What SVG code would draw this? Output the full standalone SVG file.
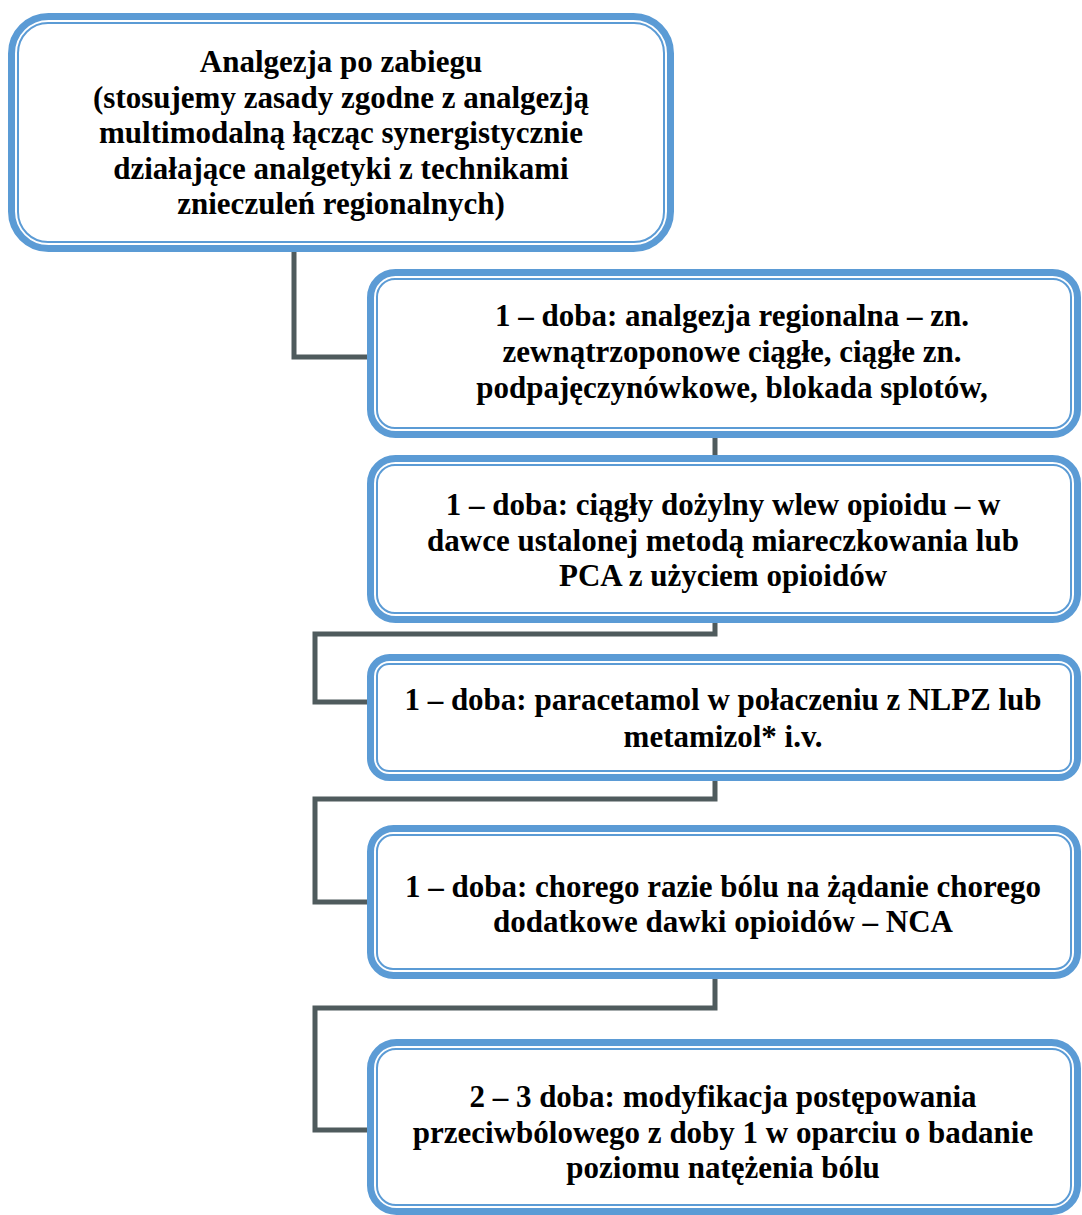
<svg xmlns="http://www.w3.org/2000/svg" width="1082" height="1215" viewBox="0 0 1082 1215">
<style>
.outer{fill:#fff;stroke:#5b9bd5;stroke-width:7}
.inner{fill:none;stroke:#5b9bd5;stroke-width:2}
.conn{fill:none;stroke:#4f5b5d;stroke-width:5;stroke-linejoin:miter;stroke-linecap:butt}
.t{font-family:"Liberation Serif","Times New Roman",serif;font-weight:bold;font-size:31px;fill:#000;text-anchor:middle}
</style>
<rect width="1082" height="1215" fill="#fff"/>
<g id="connectors">
<polyline class="conn" points="294,252 294,357 368,357"/>
<polyline class="conn" points="715,437 715,456"/>
<polyline class="conn" points="715,622 715,634 315,634 315,702 368,702"/>
<polyline class="conn" points="715,780 715,799 315,799 315,902 368,902"/>
<polyline class="conn" points="715,978 715,1008 315,1008 315,1130 368,1130"/>
</g>
<g id="node1">
<rect class="outer" x="11.5" y="16.5" width="659" height="232" rx="37"/>
<rect class="inner" x="18" y="23" width="646" height="219" rx="30"/>
<text class="t" x="341" y="72">Analgezja po zabiegu</text>
<text class="t" x="341" y="108">(stosujemy zasady zgodne z analgezją</text>
<text class="t" x="341" y="143">multimodalną łącząc synergistycznie</text>
<text class="t" x="341" y="179">działające analgetyki z technikami</text>
<text class="t" x="341" y="214">znieczuleń regionalnych)</text>
</g>
<g id="node2">
<rect class="outer" x="370.5" y="272.5" width="707" height="162" rx="25"/>
<rect class="inner" x="377" y="279" width="694" height="149" rx="18"/>
<text class="t" x="732" y="326">1 – doba: analgezja regionalna – zn.</text>
<text class="t" x="732" y="362">zewnątrzoponowe ciągłe, ciągłe zn.</text>
<text class="t" x="732" y="398">podpajęczynówkowe, blokada splotów,</text>
</g>
<g id="node3">
<rect class="outer" x="370.5" y="458.5" width="707" height="161" rx="25"/>
<rect class="inner" x="377" y="465" width="694" height="148" rx="18"/>
<text class="t" x="723" y="515">1 – doba: ciągły dożylny wlew opioidu – w</text>
<text class="t" x="723" y="551">dawce ustalonej metodą miareczkowania lub</text>
<text class="t" x="723" y="586">PCA z użyciem opioidów</text>
</g>
<g id="node4">
<rect class="outer" x="370.5" y="657.5" width="707" height="120" rx="19"/>
<rect class="inner" x="377" y="664" width="694" height="107" rx="12"/>
<text class="t" x="723" y="710">1 – doba: paracetamol w połaczeniu z NLPZ lub</text>
<text class="t" x="723" y="747">metamizol* i.v.</text>
</g>
<g id="node5">
<rect class="outer" x="370.5" y="828.5" width="707" height="147" rx="23"/>
<rect class="inner" x="377" y="835" width="694" height="134" rx="16"/>
<text class="t" x="723" y="897">1 – doba: chorego razie bólu na żądanie chorego</text>
<text class="t" x="723" y="932">dodatkowe dawki opioidów – NCA</text>
</g>
<g id="node6">
<rect class="outer" x="370.5" y="1042.5" width="707" height="169" rx="26"/>
<rect class="inner" x="377" y="1049" width="694" height="156" rx="19"/>
<text class="t" x="723" y="1107">2 – 3 doba: modyfikacja postępowania</text>
<text class="t" x="723" y="1143">przeciwbólowego z doby 1 w oparciu o badanie</text>
<text class="t" x="723" y="1178">poziomu natężenia bólu</text>
</g>
</svg>
